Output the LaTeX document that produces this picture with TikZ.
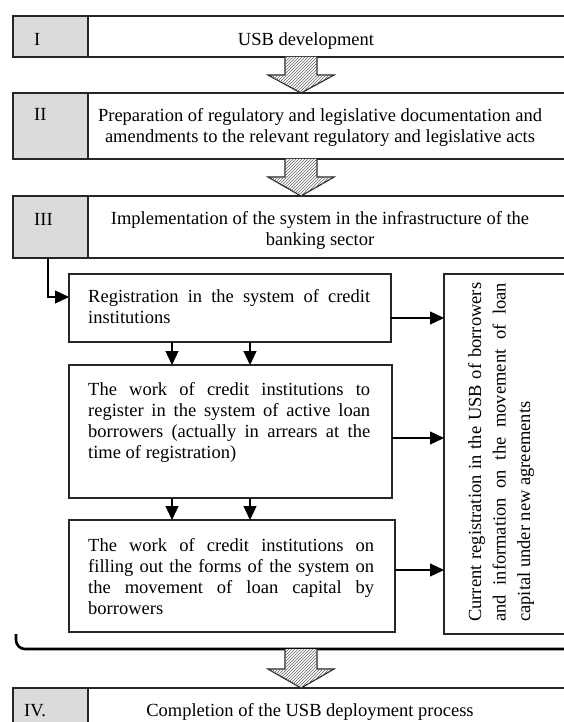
\documentclass[tikz,border=0pt]{standalone}
\usepackage{fontspec}
\setmainfont{Liberation Serif}
\usetikzlibrary{arrows.meta,patterns,calc}
\begin{document}
\begin{tikzpicture}[x=1pt,y=-1pt,
  box/.style={draw=black!85, line width=1.2pt, anchor=north west, inner sep=0pt, outer sep=0pt},
  cell/.style={box, fill=gray!28},
  txt/.style={inner sep=0pt, font={\fontsize{18.5}{21}\selectfont\hyphenpenalty=10000\exhyphenpenalty=10000}},
  jtxt/.style={txt, anchor=north west, align=justify},
  ctxt/.style={txt, anchor=north, align=center},
  arr/.style={-{Triangle[length=14pt,width=13pt]}, line width=1.2pt},
  fat/.style={draw=black!85, line width=1.2pt, fill=white, postaction={pattern=north east lines, pattern color=black!60}},
  brace/.style={line width=2.6pt, rounded corners=9pt}
]
\useasboundingbox (0,0) rectangle (564,722);
\clip (0,0) rectangle (564,722);
\fill[white] (0,0) rectangle (564,722);

% main stage boxes
\node[box, minimum width=587pt, minimum height=41pt] (b1) at (13,16) {};
\node[cell, minimum width=75pt, minimum height=41pt] (c1) at (13,16) {};
\node[box, minimum width=587pt, minimum height=66pt] (b2) at (13,93) {};
\node[cell, minimum width=75pt, minimum height=66pt] (c2) at (13,93) {};
\node[box, minimum width=587pt, minimum height=62pt] (b3) at (13,196) {};
\node[cell, minimum width=75pt, minimum height=62pt] (c3) at (13,196) {};
\node[box, minimum width=587pt, minimum height=60pt] (b4) at (13,688) {};
\node[cell, minimum width=75pt, minimum height=60pt] (c4) at (13,688) {};

% stage texts
\node[txt, anchor=base west] (n1) at (34,45.5) {I};
\node[txt, anchor=base] (t1) at (306,45.5) {USB development};
\node[txt, anchor=base west] (n2) at (34,121) {II};
\node[ctxt] (t2) at (320,108) {Preparation of regulatory and legislative documentation and\\amendments to the relevant regulatory and legislative acts};
\node[txt, anchor=base west] (n3) at (34,225) {III};
\node[ctxt] (t3) at (320,211) {Implementation of the system in the infrastructure of the\\banking sector};
\node[txt, anchor=base west] (n4) at (24,716.5) {IV.};
\node[txt, anchor=base] (t4) at (310,716.5) {Completion of the USB deployment process};

% sub boxes
\node[box, minimum width=322pt, minimum height=68pt] (reg) at (69,274) {};
\node[jtxt, text width=282pt] (treg) at (88,289) {Registration in the system of credit\linebreak institutions};
\node[box, minimum width=323pt, minimum height=133pt] (w1) at (69,365) {};
\node[jtxt, text width=282pt] (tw1) at (88,382) {The work of credit institutions to\linebreak register in the system of active loan\linebreak borrowers (actually in arrears at the\linebreak time of registration)};
\node[box, minimum width=326pt, minimum height=112pt] (w2) at (69,520) {};
\node[jtxt, text width=286pt] (tw2) at (88,538) {The work of credit institutions on\linebreak filling out the forms of the system on\linebreak the movement of loan capital by\linebreak borrowers};
\node[box, minimum width=156pt, minimum height=360pt] (rb) at (444,274) {};
\node[jtxt, rotate=90, text width=339pt, font={\fontsize{18.5}{24.5}\selectfont\hyphenpenalty=10000}] (trb) at (468,622) {Current registration in the USB of borrowers\linebreak and information on the movement of loan\linebreak capital under new agreements};

% connectors
\draw[arr] (b3.south -| 48,0) |- (reg.west |- 0,297);
\draw[arr] (reg.south -| 172,0) -- (w1.north -| 172,0);
\draw[arr] (reg.south -| 250,0) -- (w1.north -| 250,0);
\draw[arr] (w1.south -| 172,0) -- (w2.north -| 172,0);
\draw[arr] (w1.south -| 250,0) -- (w2.north -| 250,0);
\draw[arr] (reg.east |- 0,318) -- (rb.west |- 0,318);
\draw[arr] (w1.east |- 0,438) -- (rb.west |- 0,438);
\draw[arr] (w2.east |- 0,570) -- (rb.west |- 0,570);

% bracket under stage III
\draw[brace] (16,634) -- (16,649) -- (600,649);
\coordinate (br) at (301,649);

% hatched block arrows
\coordinate (ax) at (301,0);
\draw[fat] ($(b1.south -| ax)+(-16,0)$) -- ++(0,18) -- ++(-17,0) -- (b2.north -| ax) -- ($(b1.south -| ax)+(33,18)$) -- ++(-17,0) -- ++(0,-18);
\draw[fat] ($(b2.south -| ax)+(-16,0)$) -- ++(0,18) -- ++(-17,0) -- (b3.north -| ax) -- ($(b2.south -| ax)+(33,18)$) -- ++(-17,0) -- ++(0,-18);
\draw[fat] ($(br)+(-16,0)$) -- ++(0,20) -- ++(-17,0) -- (b4.north -| ax) -- ($(br)+(33,20)$) -- ++(-17,0) -- ++(0,-20);
\end{tikzpicture}
\end{document}
